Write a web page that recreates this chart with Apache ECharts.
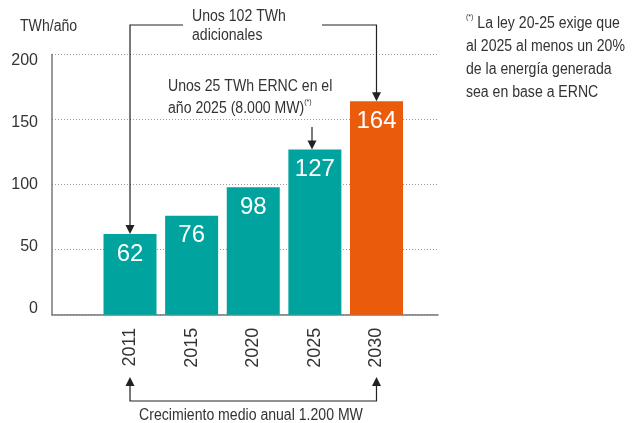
<!DOCTYPE html>
<html>
<head>
<meta charset="utf-8">
<script src="https://cdn.jsdelivr.net/npm/echarts@6/dist/echarts.min.js"></script>
<style>
  html, body { margin: 0; padding: 0; background: #fff; }
  #chart { width: 634px; height: 423px; }
</style>
</head>
<body>
<div id="chart"></div>
<script>
const years = ['2011', '2015', '2020', '2025', '2030']
const values = [62, 76, 98, 127, 164]
const yTicks = [0, 50, 100, 150, 200]

const TEAL = '#00a39d'
const ORANGE = '#ea5b0c'
const INK = '#333333'
const FONT = '"Liberation Sans", Arial, sans-serif'
const NARROW = 0.88 // el original usa una tipografía condensada

const chart = echarts.init(document.getElementById('chart'))

const yMin = yTicks[0]
const yMax = yTicks[yTicks.length - 1]

const option = {
  animation: false,
  textStyle: { fontFamily: FONT },
  grid: [
    // marco con eje Y y línea base
    { left: 52, right: 196, top: 54.5, bottom: 108.3 },
    // barras
    { left: 99.2, right: 226.7, top: 54.5, bottom: 108.3 },
    // etiquetas del eje Y (en el original están algo apretadas)
    { left: 52, right: 196, top: 60.5, bottom: 114 }
  ],
  xAxis: [
    {
      gridIndex: 0, type: 'value', min: 0, max: 1,
      axisLine: { show: true, lineStyle: { color: '#777', width: 1.5 } },
      axisTick: { show: false }, axisLabel: { show: false }, splitLine: { show: false }
    },
    {
      gridIndex: 1, type: 'category', data: years,
      axisLine: { show: false }, axisTick: { show: false },
      axisLabel: { rotate: 90, margin: 13, fontSize: 18, color: INK, fontFamily: FONT }
    },
    { gridIndex: 2, type: 'value', show: false }
  ],
  yAxis: [
    {
      gridIndex: 0, type: 'value', min: yMin, max: yMax, interval: 50,
      axisLine: { show: true, lineStyle: { color: '#777', width: 1.5 } },
      axisTick: { show: false },
      axisLabel: { show: false },
      splitLine: { show: true, lineStyle: { color: '#999', type: [1, 2], width: 1 } }
    },
    {
      gridIndex: 1, type: 'value', min: yMin, max: yMax, show: false
    },
    {
      gridIndex: 2, type: 'value', min: yMin, max: yMax, interval: 50,
      axisLine: { show: false }, axisTick: { show: false }, splitLine: { show: false },
      axisLabel: { margin: 14, fontSize: 16, color: INK, fontFamily: FONT }
    }
  ],
  series: [
    {
      type: 'bar',
      xAxisIndex: 1, yAxisIndex: 1,
      barWidth: 53,
      data: values.map((v, i) => ({
        value: v,
        itemStyle: { color: i === values.length - 1 ? ORANGE : TEAL }
      })),
      label: {
        show: true, position: 'insideTop', distance: 8,
        color: '#fff', fontSize: 24, fontFamily: FONT
      }
    }
  ]
}

chart.setOption(option)

// anotaciones: posiciones de las barras desde las escalas del gráfico
const pt = (i) => chart.convertToPixel({ seriesIndex: 0 }, [years[i], values[i]])
const p2011 = pt(0)
const p2025 = pt(3)
const p2030 = pt(4)

const lineStyle = { stroke: '#222', lineWidth: 1.2, fill: null }
const line = (pts) => ({ type: 'polyline', shape: { points: pts }, style: lineStyle, silent: true })
const arrowDown = (x, y) => ({
  type: 'polygon', shape: { points: [[x - 4.5, y - 9], [x + 4.5, y - 9], [x, y]] },
  style: { fill: '#222' }, silent: true
})
const arrowUp = (x, y) => ({
  type: 'polygon', shape: { points: [[x - 4.5, y + 9], [x + 4.5, y + 9], [x, y]] },
  style: { fill: '#222' }, silent: true
})
const text = (x, y, str, extra) => ({
  type: 'text', x: x, y: y, scaleX: NARROW, silent: true,
  style: Object.assign({ text: str, fill: INK, font: '16px ' + FONT }, extra || {})
})
const rich = {
  a: { fontSize: 16, fontFamily: FONT, fill: INK },
  s: { fontSize: 8, fontFamily: FONT, fill: INK, verticalAlign: 'top' }
}

const bracketY = 25
const bottomY = 401

chart.setOption({
  graphic: [
    // Unos 102 TWh adicionales
    line([[p2011[0], p2011[1] - 8], [p2011[0], bracketY], [183, bracketY]]),
    line([[322, bracketY], [p2030[0], bracketY], [p2030[0], p2030[1] - 8]]),
    arrowDown(p2011[0], p2011[1]),
    arrowDown(p2030[0], p2030[1]),
    text(192, 26.5, 'Unos 102 TWh\nadicionales', { verticalAlign: 'middle', lineHeight: 19 }),

    // Unos 25 TWh ERNC
    line([[312, 127], [312, p2025[1] - 8]]),
    arrowDown(312, p2025[1]),
    text(168, 98, '{a|Unos 25 TWh ERNC en el}\n{a|año 2025 (8.000 MW)}{s|(*)}', {
      verticalAlign: 'middle', lineHeight: 22, rich: rich
    }),

    // Crecimiento medio anual
    line([[p2011[0], 385], [p2011[0], bottomY], [p2030[0], bottomY], [p2030[0], 385]]),
    arrowUp(p2011[0], 377),
    arrowUp(p2030[0], 377),
    text(251, 416, 'Crecimiento medio anual 1.200 MW', { align: 'center', verticalAlign: 'middle' }),

    // unidad
    text(20, 27, 'TWh/año', { verticalAlign: 'middle' }),

    // nota
    text(466, 58.5, '{s|(*)} {a|La ley 20-25 exige que}\n{a|al 2025 al menos un 20%}\n{a|de la energía generada}\n{a|sea en base a ERNC}', {
      verticalAlign: 'middle', lineHeight: 23, rich: rich
    })
  ]
})
</script>
</body>
</html>
